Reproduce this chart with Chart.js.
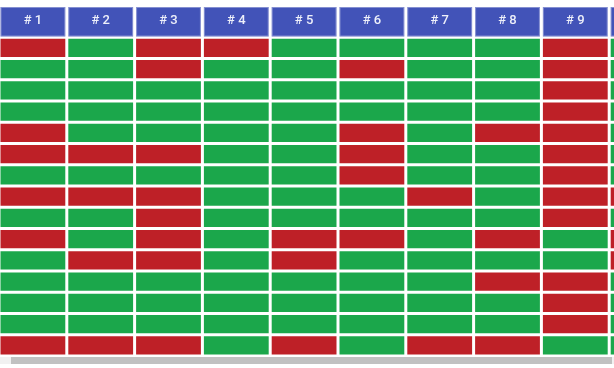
<!DOCTYPE html>
<html>
<head>
<meta charset="utf-8">
<script src="https://cdn.jsdelivr.net/npm/chart.js@4.4.1/dist/chart.umd.min.js"></script>
<style>
  html, body { margin: 0; padding: 0; background: #fff; }
  body { width: 614px; height: 368px; overflow: hidden; position: relative; }
  #wrap { position: absolute; left: -1px; top: 0; }
  .track { position: absolute; left: 0; top: 357px; width: 614px; height: 7px; background: #f1f1f1; }
  .thumb { position: absolute; left: 11px; top: 357px; width: 601px; height: 7px; background: #c1c1c1; }
</style>
</head>
<body>
<div id="wrap"><canvas id="grid" width="678" height="356"></canvas></div>
<div class="track"></div>
<div class="thumb"></div>
<script>
// --- column headers (test runs) ---
const columns = ['# 1', '# 2', '# 3', '# 4', '# 5', '# 6', '# 7', '# 8', '# 9', '# 10'];

// --- result per row for each column: 1 = pass (green), 0 = fail (red) ---
const col1  = [0, 1, 1, 1, 0, 0, 1, 0, 1, 0, 1, 1, 1, 1, 0];
const col2  = [1, 1, 1, 1, 1, 0, 1, 0, 1, 1, 0, 1, 1, 1, 0];
const col3  = [0, 0, 1, 1, 1, 0, 1, 0, 0, 0, 0, 1, 1, 1, 0];
const col4  = [0, 1, 1, 1, 1, 1, 1, 1, 1, 1, 1, 1, 1, 1, 1];
const col5  = [1, 1, 1, 1, 1, 1, 1, 1, 1, 0, 0, 1, 1, 1, 0];
const col6  = [1, 0, 1, 1, 0, 0, 0, 1, 1, 0, 1, 1, 1, 1, 1];
const col7  = [1, 1, 1, 1, 1, 1, 1, 0, 1, 1, 1, 1, 1, 1, 0];
const col8  = [1, 1, 1, 1, 0, 1, 1, 1, 1, 0, 1, 0, 1, 1, 0];
const col9  = [0, 0, 0, 0, 0, 0, 0, 0, 0, 1, 1, 0, 0, 0, 1];
const col10 = [1, 1, 1, 1, 1, 1, 1, 0, 1, 0, 0, 1, 1, 1, 1];

const results = [col1, col2, col3, col4, col5, col6, col7, col8, col9, col10];
const rowCount = col1.length;

// colours
const PASS = '#1ba74b';
const FAIL = '#be2027';
const HEADER = '#4253b8';

// one floating-bar dataset per row, overlapping (not grouped)
const datasets = [];
for (let r = 0; r < rowCount; r++) {
    datasets.push({
        data: columns.map(() => [r, r + 1]),
        backgroundColor: results.map(col => col[r] ? PASS : FAIL),
        borderColor: '#ffffff',
        borderWidth: 1.5,
        borderSkipped: false,
        inflateAmount: 0,
        grouped: false,
        barPercentage: 1,
        categoryPercentage: 1
    });
}

// blue header boxes behind the x-axis labels
const headerBoxes = {
    id: 'headerBoxes',
    beforeDraw(chart) {
        const { ctx, scales: { x } } = chart;
        const w = x.getPixelForValue(1) - x.getPixelForValue(0);
        ctx.save();
        columns.forEach((c, i) => {
            const cx = x.getPixelForValue(i);
            const left = cx - w / 2 + 1.5;
            ctx.fillStyle = HEADER;
            ctx.fillRect(left, 7, w - 3, 29.5);
            ctx.strokeStyle = 'rgba(255,255,255,0.35)';
            ctx.lineWidth = 1;
            ctx.strokeRect(left + 0.5, 7.5, w - 4, 28.5);
        });
        ctx.restore();
    }
};

const ctx = document.getElementById('grid').getContext('2d');
new Chart(ctx, {
    type: 'bar',
    data: { labels: columns, datasets: datasets },
    options: {
        responsive: false,
        animation: false,
        devicePixelRatio: 1,
        layout: { padding: 0 },
        plugins: { legend: { display: false }, tooltip: { enabled: false } },
        scales: {
            x: {
                position: 'top',
                offset: true,
                grid: { display: false, drawTicks: false },
                border: { display: false },
                ticks: {
                    color: '#eef0fa',
                    padding: 9,
                    maxRotation: 0,
                    autoSkip: false,
                    font: { family: 'Roboto, "Liberation Sans", sans-serif', size: 13, weight: '500' }
                },
                afterFit: scale => { scale.height = 37.3; }
            },
            y: {
                display: false,
                reverse: true,
                min: 0,
                max: rowCount
            }
        }
    },
    plugins: [headerBoxes]
});
</script>
</body>
</html>
